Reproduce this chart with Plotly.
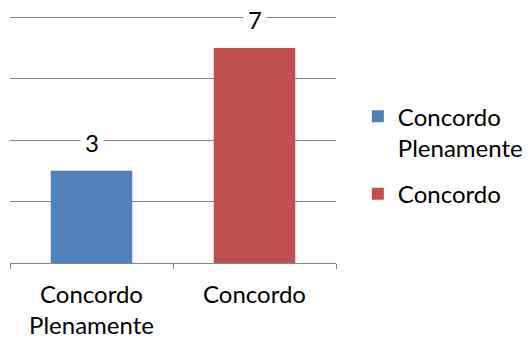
import plotly.graph_objects as go

# Survey responses
categories = ["Concordo<br>Plenamente", "Concordo"]
legend_names = ["Concordo<br>Plenamente", "Concordo"]
values = [3, 7]
colors = ["#4F81BD", "#C0504D"]

FONT = "Lato"
FS = 24

fig = go.Figure()
for i, (cat, name, val, col) in enumerate(zip(categories, legend_names, values, colors)):
    fig.add_trace(go.Bar(
        x=[cat], y=[val], name=name, legendgroup=f"g{i}",
        marker=dict(color=col, line=dict(width=0)),
        width=0.5,
    ))

# value labels on white boxes above each bar
for cat, val in zip(categories, values):
    fig.add_annotation(
        x=cat, y=val, text=str(val), showarrow=False,
        yanchor="middle", yshift=28,
        bgcolor="white", borderpad=4,
        font=dict(family=FONT, size=FS, color="black"),
    )

fig.update_layout(
    width=531, height=338,
    margin=dict(l=10, r=195, t=11, b=75, autoexpand=False),
    paper_bgcolor="white", plot_bgcolor="white",
    barmode="overlay",
    showlegend=True,
    font=dict(family=FONT, size=FS, color="black"),
    legend=dict(
        x=1.067, xanchor="left", y=0.67, yanchor="top",
        font=dict(family=FONT, size=FS, color="black"),
        valign="top", tracegroupgap=12, itemwidth=30,
        bgcolor="rgba(0,0,0,0)",
    ),
    xaxis=dict(
        showgrid=False, showline=True, linecolor="#868686", linewidth=1,
        ticks="outside", tickson="boundaries", ticklen=5, tickcolor="#868686",
        tickfont=dict(family=FONT, size=FS, color="black"),
        ticklabelstandoff=10,
        categoryorder="array", categoryarray=categories,
    ),
    yaxis=dict(
        range=[0, 8.2], tickvals=[0, 2, 4, 6, 8], showgrid=True,
        gridcolor="#868686", gridwidth=1,
        showticklabels=False, zeroline=False, showline=False, ticks="",
    ),
)

fig.write_html("out.html")
